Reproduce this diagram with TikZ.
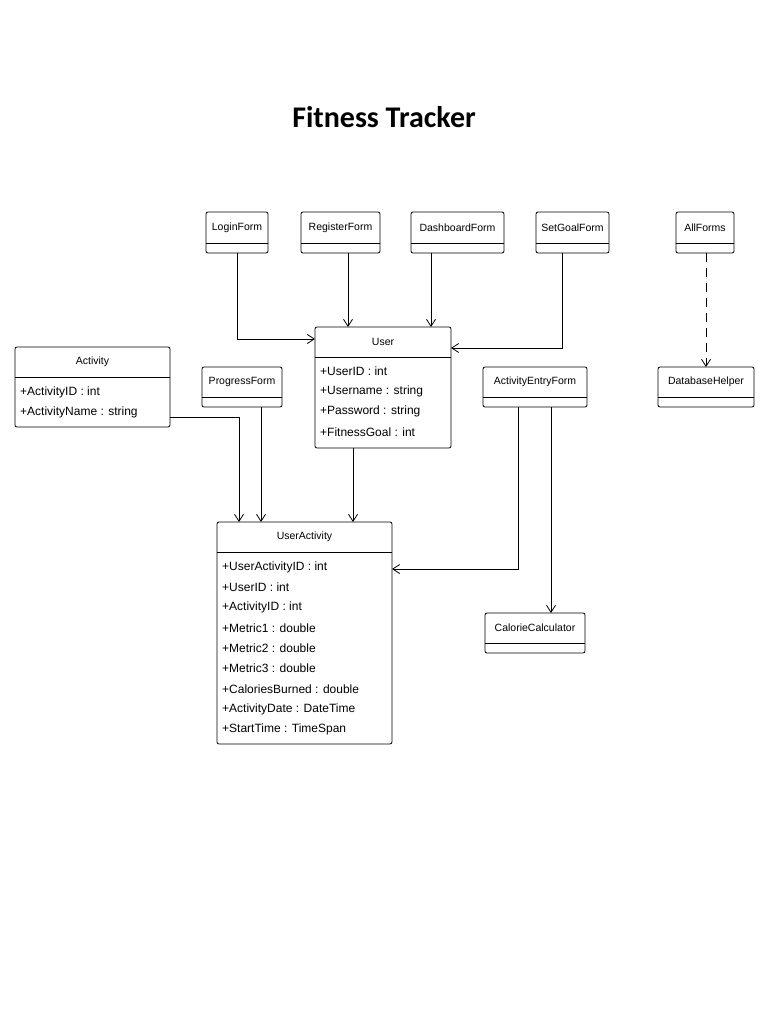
\documentclass[tikz,border=0pt]{standalone}
\usepackage{fontspec}
\setmainfont{Liberation Sans}
\newfontfamily\titlefont{Carlito}
\usetikzlibrary{arrows.meta}
\tikzset{
  box/.style={draw,thick,rounded corners=2pt},
  head/.style={font=\fontsize{10.5}{12}\selectfont,inner sep=0pt},
  attr/.style={font=\fontsize{12}{14}\selectfont,anchor=west,inner sep=0pt},
  link/.style={thick,-{Straight Barb[length=7pt,width=9pt]}},
}
% class box: name, x1, y1, x2, y2, header line y, title
\newcommand{\umlbox}[7]{%
  \draw[box] (#2,#3) rectangle (#4,#5);
  \draw[thick] (#2,#6) -- (#4,#6);
  \node[head] (#1) at ({(#2+#4)/2},{(#3+#6)/2}) {#7};
  \coordinate (#1-nw) at (#2,#3);
  \coordinate (#1-se) at (#4,#5);
}
\begin{document}
\begin{tikzpicture}[x=1pt,y=-1pt]
  \useasboundingbox (0,0) rectangle (768,1024);
  \node[font=\titlefont\bfseries\fontsize{30}{34}\selectfont] (title) at (384,117) {Fitness Tracker};

  \umlbox{login}{206}{212}{268}{253}{243}{LoginForm}
  \umlbox{register}{301}{212}{380}{253}{243}{RegisterForm}
  \umlbox{dash}{411}{212}{504}{253}{243}{DashboardForm}
  \umlbox{setgoal}{536}{212}{609}{253}{243}{SetGoalForm}
  \umlbox{allforms}{676}{212}{734}{253}{243}{AllForms}
  \umlbox{user}{315}{327}{451}{448}{357}{User}
  \umlbox{activity}{15}{347}{170}{427}{377}{Activity}
  \umlbox{progress}{202}{367}{282}{407}{397}{ProgressForm}
  \umlbox{entry}{483}{367}{587}{407}{397}{ActivityEntryForm}
  \umlbox{dbhelper}{658}{367}{754}{407}{397}{DatabaseHelper}
  \umlbox{useract}{217}{522}{392}{744}{552}{UserActivity}
  \umlbox{calc}{485}{613}{585}{653}{643}{CalorieCalculator}

  % attributes
  \foreach \t [count=\i from 0] in {+UserID : int,+Username : string,+Password : string,+FitnessGoal : int}
    \node[attr] (user-a\i) at (320,371+20.3*\i) {\t};
  \foreach \t [count=\i from 0] in {+ActivityID : int,+ActivityName : string}
    \node[attr] (activity-a\i) at (20,392+20*\i) {\t};
  \foreach \t [count=\i from 0] in {+UserActivityID : int,+UserID : int,+ActivityID : int,+Metric1 : double,+Metric2 : double,+Metric3 : double,+CaloriesBurned : double,+ActivityDate : DateTime,+StartTime : TimeSpan}
    \node[attr] (useract-a\i) at (222,567+20.3*\i) {\t};

  % connectors
  \coordinate (c1) at (237,253);
  \coordinate (c2) at (315,339);
  \draw[link] (c1) |- (c2);
  \draw[link] (348,253) -- (348,327);
  \draw[link] (431,253) -- (431,327);
  \coordinate (c3) at (562,253);
  \coordinate (c4) at (451,348);
  \draw[link] (c3) |- (c4);
  \draw[link,dash pattern=on 9pt off 6pt] (706,253) -- (706,367);
  \coordinate (c5) at (170,417);
  \coordinate (c6) at (239,522);
  \draw[link] (c5) -| (c6);
  \draw[link] (261,407) -- (261,522);
  \draw[link] (353,448) -- (353,522);
  \coordinate (c7) at (518,407);
  \coordinate (c8) at (392,569);
  \draw[link] (c7) |- (c8);
  \draw[link] (551,407) -- (551,613);
\end{tikzpicture}
\end{document}
